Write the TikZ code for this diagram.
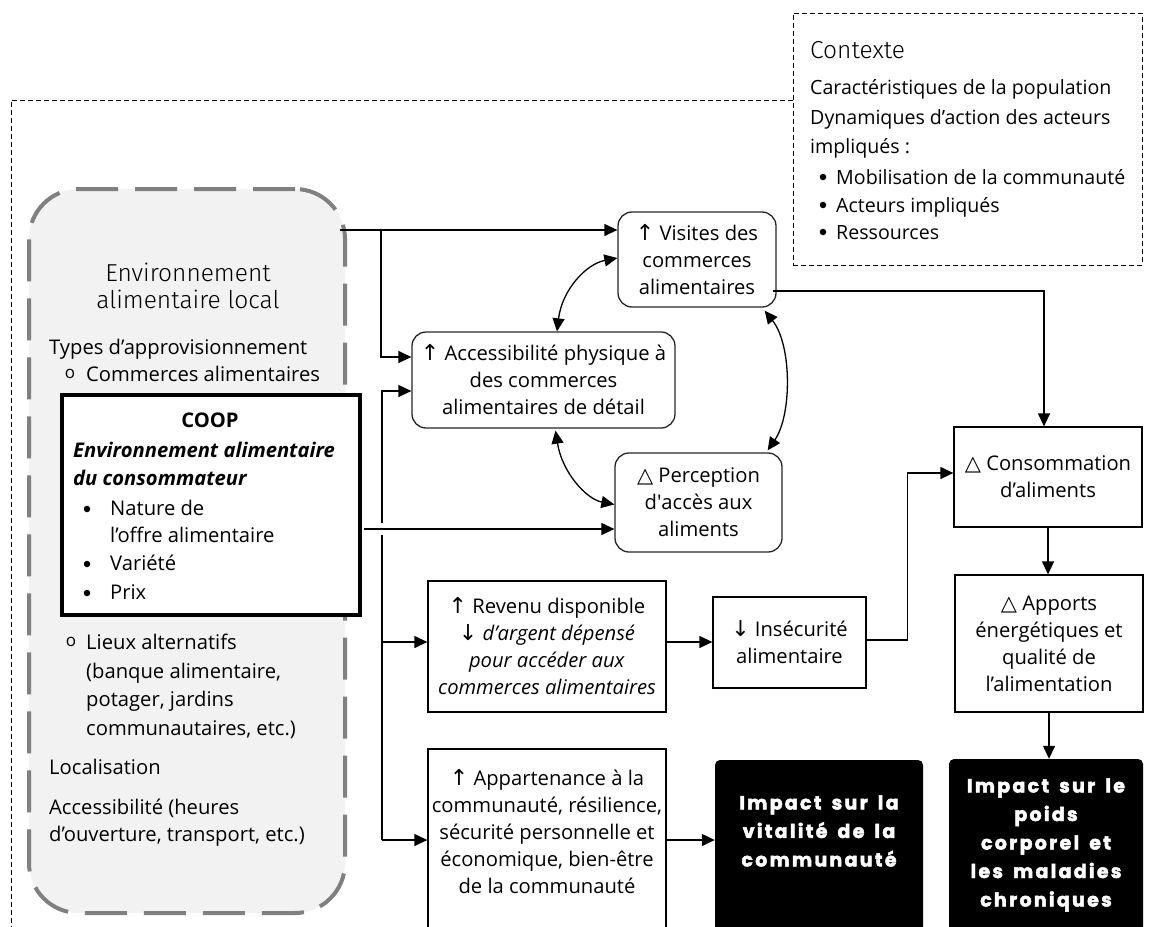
\documentclass[tikz,border=0pt]{standalone}
\usepackage{fontspec}
\setmainfont{Open Sans}
\newfontfamily\symf{DejaVu Sans}
\newfontfamily\lightf{Fira Sans Light}
\newfontfamily\heavyf[LetterSpace=12,FakeBold=2.4,WordSpace=1.6]{Poppins}
\usetikzlibrary{arrows.meta,calc}
\newcommand\mainsz{\fontsize{20.2}{27}\selectfont}
\newcommand\heavysz{\fontsize{19}{28.5}\selectfont\heavyf\bfseries}
\newcommand\up{{\symf\fontsize{22}{22}\selectfont ↑}}
\newcommand\down{{\symf\fontsize{22}{22}\selectfont ↓}}
\newcommand\delt{{\symf\fontsize{21}{21}\selectfont △}}
\definecolor{panelfill}{HTML}{F2F2F2}
\definecolor{panelline}{HTML}{808080}
\begin{document}
\begin{tikzpicture}[x=1pt,y=-1pt,
  box/.style={draw, line width=1.3pt, fill=white, align=center, inner sep=0pt, font=\mainsz},
  rbox/.style={box, rounded corners=14pt, draw=black!85},
  blk/.style={fill=black, rounded corners=5pt, inner sep=0pt},
  blktext/.style={text=white, align=center, inner sep=0pt, font=\heavysz},
  arr/.style={line width=1.3pt, -{Triangle[length=13pt,width=12pt]}},
  dbl/.style={line width=1.3pt, {Triangle[length=13pt,width=12pt]}-{Triangle[length=13pt,width=12pt]}},
  txt/.style={anchor=base west, inner sep=0pt, font=\mainsz},
  ctxt/.style={anchor=base west, inner sep=0pt, font=\fontsize{19.6}{27}\selectfont},
  bul/.style={circle, fill=black, minimum size=6.5pt, inner sep=0pt},
  obul/.style={inner sep=0pt, font=\fontsize{17}{17}\selectfont},
  fdash/.style={line width=0.9pt, dash pattern=on 5pt off 3pt}
]
\useasboundingbox (0,0) rectangle (1150,926);

% outer dashed frame
\draw[fdash] (793,100) -- (11,100) -- (11,940);

% context box
\node[fdash, draw, fill=white, minimum width=349pt, minimum height=252pt, inner sep=0pt] (ctx) at (967.5,139) {};
\node[anchor=base west, inner sep=0pt, font=\lightf\fontsize{24.5}{24.5}\selectfont] (ctxT) at (810,58) {Contexte};
\node[ctxt] (ctx1) at (810,94) {Caractéristiques de la population};
\node[ctxt] (ctx2) at (810,124) {Dynamiques d’action des acteurs};
\node[ctxt] (ctx3) at (810,153) {impliqués :};
\node[bul] (cb1) at (823,177) {};
\node[bul] (cb2) at (823,205) {};
\node[bul] (cb3) at (823,232) {};
\node[ctxt] (ctx4) at (836,184) {Mobilisation de la communauté};
\node[ctxt] (ctx5) at (836,212) {Acteurs impliqués};
\node[ctxt] (ctx6) at (836,239) {Ressources};

% left panel
\node[draw=panelline, fill=panelfill, line width=4pt, dash pattern=on 42pt off 17pt,
      rounded corners=50pt, minimum width=316pt, minimum height=724pt, inner sep=0pt] (panel) at (187,551) {};
\node[anchor=base, inner sep=0pt, font=\lightf\fontsize{24.5}{24.5}\selectfont] (env1) at (188,281) {Environnement};
\node[anchor=base, inner sep=0pt, font=\lightf\fontsize{24.5}{24.5}\selectfont] (env2) at (188,308) {alimentaire local};
\node[txt] (l1) at (49,354) {Types d’approvisionnement};
\node[obul] (ob1) at (70,374) {o};
\node[txt] (l2) at (86,381) {Commerces alimentaires};

% COOP box
\node[draw, line width=4pt, fill=white, minimum width=298pt, minimum height=220pt, inner sep=0pt] (coop) at (211,505) {};
\node[anchor=base, inner sep=0pt, font=\mainsz\bfseries] (coopT) at (210,427) {COOP};
\node[txt, font=\mainsz\bfseries\itshape] (c1) at (73,457) {Environnement alimentaire};
\node[txt, font=\mainsz\bfseries\itshape] (c2) at (73,485) {du consommateur};
\node[bul] (b1) at (87,509) {};
\node[bul] (b2) at (87,564) {};
\node[bul] (b3) at (87,593) {};
\node[txt] (c3) at (110,515) {Nature de};
\node[txt] (c4) at (110,542) {l’offre alimentaire};
\node[txt] (c5) at (110,570) {Variété};
\node[txt] (c6) at (110,599) {Prix};

\node[obul] (ob2) at (71,642) {o};
\node[txt] (l3) at (86,649) {Lieux alternatifs};
\node[txt] (l4) at (86,678) {(banque alimentaire,};
\node[txt] (l5) at (86,706) {potager, jardins};
\node[txt] (l6) at (86,735) {communautaires, etc.)};
\node[txt] (l7) at (49,774) {Localisation};
\node[txt] (l8) at (49,814) {Accessibilité (heures};
\node[txt] (l9) at (49,841) {d’ouverture, transport, etc.)};

% central boxes
\node[rbox, minimum width=158pt, minimum height=95pt] (visites) at (697,259.5)
  {\up\ Visites des\\commerces\\alimentaires};
\node[rbox, minimum width=263pt, minimum height=96pt] (access) at (543.5,380)
  {\up\ Accessibilité physique à\\des commerces\\alimentaires de détail};
\node[rbox, minimum width=167pt, minimum height=99pt] (percep) at (698.5,502.5)
  {\delt\ Perception\\d\textquotesingle accès aux\\aliments};
\node[box, minimum width=238pt, minimum height=131pt] (revenu) at (547,646.5)
  {\up\ Revenu disponible\\\down\ \textit{d’argent dépensé}\\\textit{pour accéder aux}\\\textit{commerces alimentaires}};
\node[box, minimum width=153pt, minimum height=91pt] (insec) at (789.5,642.5)
  {\down\ Insécurité\\alimentaire};
\node[box, minimum width=188pt, minimum height=100pt] (conso) at (1048,477)
  {\delt\ Consommation\\d’aliments};
\node[box, minimum width=188pt, minimum height=137pt] (apports) at (1049,643.5)
  {\delt\ Apports\\énergétiques et\\qualité de\\l’alimentation};
\node[box, minimum width=238pt, minimum height=191pt] (appart) at (547,844.5) {};
\node[align=center, inner sep=0pt, font=\mainsz] (appartT) at (547,832)
  {\up\ Appartenance à la\\communauté, résilience,\\sécurité personnelle et\\économique, bien-être\\de la communauté};
\node[blk, minimum width=208pt, minimum height=180pt] (vital) at (819,850) {};
\node[blktext] (vitalT) at (819,831) {Impact sur la\\vitalité de la\\communauté};
\node[blk, minimum width=194pt, minimum height=181pt] (poids) at (1046,849.5) {};
\node[blktext] (poidsT) at (1046,845) {Impact sur le\\poids\\corporel et\\les maladies\\chroniques};

% connectors from the panel
\coordinate (pTR) at (340,230);
\coordinate (jA) at (381,230);
\coordinate (jB) at (382,840);
\coordinate (jC) at (382,642);
\draw[arr] (pTR) -- (pTR -| visites.west);
\draw[arr] (jA) |- ($(access.west)+(0,-23)$);
\draw[arr] (jB) |- ($(access.west)+(0,11)$);
\draw[arr] (jB) -- (jB -| appart.west);
\draw[arr] (jC) -- (jC -| revenu.west);
\draw[white, line width=5pt] (382,523) -- (382,535);
\draw[arr] ($(coop.east)+(2,24)$) -- ($(percep.west)+(0,26.5)$);

% other connectors
\coordinate (rE) at ($(revenu.east)+(0,-4.5)$);
\draw[arr] (rE) -- (rE -| insec.west);
\draw[arr] ($(insec.east)+(0,-2.5)$) -- ++(41,0) |- ($(conso.west)+(0,-4)$);
\draw[arr] ($(visites.east)+(-4,31.5)$) -| ($(conso.north)+(-4,0)$);
\draw[arr] (conso.south) -- (conso.south |- apports.north);
\draw[arr] (apports.south) -- (apports.south |- poids.north);
\coordinate (aE) at ($(appart.east)+(0,-4.5)$);
\draw[arr] (aE) -- (aE -| vital.west);

% curved double arrows
\draw[dbl] ($(access.north)+(13.5,0)$) .. controls (562,290) and (586,264) .. ($(visites.west)+(0,-1.5)$);
\draw[dbl] ($(visites.south east)+(-12,3)$) .. controls (792,345) and (792,415) .. ($(percep.north east)+(-15,-2)$);
\draw[dbl] ($(access.south)+(12,2)$) .. controls (562,472) and (586,499) .. ($(percep.west)+(0,2)$);
\end{tikzpicture}
\end{document}
